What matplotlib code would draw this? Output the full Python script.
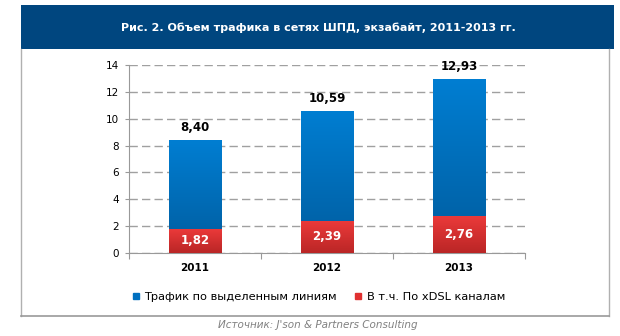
import matplotlib
matplotlib.use("Agg")
import matplotlib.pyplot as plt
import numpy as np
from matplotlib.patches import Rectangle
from matplotlib.colors import LinearSegmentedColormap

years = ["2011", "2012", "2013"]
total_traffic = [8.40, 10.59, 12.93]
xdsl_traffic = [1.82, 2.39, 2.76]
legend_labels = ["Трафик по выделенным линиям", "В т.ч. По xDSL каналам"]
title = "Рис. 2. Объем трафика в сетях ШПД, экзабайт, 2011-2013 гг."
source = "Источник: J'son & Partners Consulting"

W, H = 620, 336
fig = plt.figure(figsize=(W / 100, H / 100), dpi=100)
fig.patch.set_facecolor("white")


def px(x, y):
    return x / W, 1 - y / H


# header banner
bx0, by0 = px(21, 49)
bx1, by1 = px(614, 5)
fig.patches.append(Rectangle((bx0, by0), bx1 - bx0, by1 - by0,
                             transform=fig.transFigure, facecolor="#00467f",
                             edgecolor="none"))
tx, ty = px(318, 28)
fig.text(tx, ty, title, color="white", fontsize=8, fontweight="bold",
         ha="center", va="center", family="DejaVu Sans")

# frame around the plot area
fx0, fy0 = px(21, 316)
fx1, fy1 = px(609, 49)
fig.lines.append(plt.Line2D([fx0, fx0], [fy0, fy1], transform=fig.transFigure,
                            color="#b0b0b0", lw=1))
fig.lines.append(plt.Line2D([fx1, fx1], [fy0, fy1], transform=fig.transFigure,
                            color="#b0b0b0", lw=1))
fig.lines.append(plt.Line2D([fx0, fx1], [fy0, fy0], transform=fig.transFigure,
                            color="#999999", lw=1.2))

sx, sy = px(318, 325)
fig.text(sx, sy, source, color="#808080", fontsize=7.5, style="italic",
         ha="center", va="center")

# plot axes
ax_l, ax_b = px(129, 253)
ax_r, ax_t = px(525, 65)
ax = fig.add_axes([ax_l, ax_b, ax_r - ax_l, ax_t - ax_b])
ax.set_xlim(0, 3)
ax.set_ylim(0, 14)
ax.set_yticks(np.arange(0, 15, 2))
ax.set_yticklabels([str(v) for v in range(0, 15, 2)], fontsize=7.5)
ax.set_xticks([0, 1, 2, 3])
ax.set_xticklabels([])
ax.set_xticks([0.5, 1.5, 2.5], minor=True)
ax.set_xticklabels(years, minor=True, fontsize=7.5, fontweight="bold")
ax.tick_params(axis="x", which="minor", length=0, pad=7)
ax.tick_params(axis="x", which="major", length=4, color="#999999", direction="out")
ax.tick_params(axis="y", length=3, color="#999999", pad=4)
for s in ["top", "right"]:
    ax.spines[s].set_visible(False)
for s in ["left", "bottom"]:
    ax.spines[s].set_color("#999999")
ax.grid(axis="y", color="#a0a0a0", linestyle=(0, (6, 3)), lw=1)
ax.set_axisbelow(True)

blue_cmap = LinearSegmentedColormap.from_list("b", ["#005c9e", "#007ed2"])
red_cmap = LinearSegmentedColormap.from_list("r", ["#ba2626", "#ec3a3a"])
grad = np.linspace(0, 1, 256).reshape(-1, 1)

bar_w = 0.4
x = np.arange(len(years)) + 0.5


def grad_bars(xs, heights, cmap, z):
    bars = ax.bar(xs, heights, width=bar_w, color="none", edgecolor="none", zorder=z)
    for b in bars:
        x0, y0 = b.get_x(), b.get_y()
        w, h = b.get_width(), b.get_height()
        im = ax.imshow(grad, cmap=cmap, origin="lower", aspect="auto",
                       extent=[x0, x0 + w, y0, y0 + h], zorder=z)
        im.set_clip_path(b)
    return bars


grad_bars(x, total_traffic, blue_cmap, 2)
grad_bars(x, xdsl_traffic, red_cmap, 3)
ax.set_xlim(0, 3)
ax.set_ylim(0, 14)

for xi, v in zip(x, total_traffic):
    ax.text(xi, v + 0.45, f"{v:.2f}".replace(".", ","), ha="center", va="bottom",
            fontsize=8.5, fontweight="bold", color="black")
for xi, v in zip(x, xdsl_traffic):
    ax.text(xi, v / 2, f"{v:.2f}".replace(".", ","), ha="center", va="center",
            fontsize=8.5, fontweight="bold", color="white", zorder=5)

# legend
handles = [Rectangle((0, 0), 1, 1, color="#0070c0"),
           Rectangle((0, 0), 1, 1, color="#e03030")]
lx, ly = px(319, 297)
fig.legend(handles, legend_labels, loc="center", bbox_to_anchor=(lx, ly),
           ncol=2, frameon=False, fontsize=8.2, handlelength=0.5, handleheight=0.5,
           handletextpad=0.5, columnspacing=1.6)

fig.savefig("out.png", dpi=100)
